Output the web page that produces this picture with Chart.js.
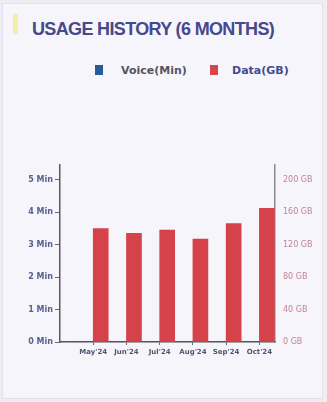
<!DOCTYPE html>
<html>
<head>
<meta charset="utf-8">
<script src="https://cdn.jsdelivr.net/npm/chart.js@4.4.1/dist/chart.umd.min.js"></script>
<style>
  html, body { margin: 0; padding: 0; }
  body { width: 327px; height: 402px; background: #eeedf3; overflow: hidden; position: relative; }
  #card { position: absolute; left: 2px; top: 3px; width: 321px; height: 396px; background: #f6f5fb; border: 1px solid #e3e1ea; box-sizing: border-box; }
  .accent { position: absolute; left: 10px; top: 10px; width: 5px; height: 20px; background: #f1efa6; }
  .title { position: absolute; left: 29px; top: 16px; font: bold 18px "Liberation Sans", Arial, sans-serif; line-height: 18px; letter-spacing: -0.65px; color: #46498b; white-space: nowrap; }
  .legend { position: absolute; top: 60px; left: 0; width: 321px; height: 16px; font: bold 11px "DejaVu Sans", sans-serif; }
  .legend .sw { position: absolute; top: 1px; width: 8px; height: 10px; }
  .legend .lbl { position: absolute; top: 0; line-height: 13px; white-space: nowrap; }
  .chart { position: absolute; left: 0; top: 150px; width: 327px; height: 215px; }
</style>
</head>
<body>
<div id="card">
  <div class="accent"></div>
  <div class="title">USAGE HISTORY (6 MONTHS)</div>
  <div class="legend">
    <span class="sw" style="left:92px;background:#265c96"></span>
    <span class="lbl" style="left:118px;color:#55545e">Voice(Min)</span>
    <span class="sw" style="left:207px;background:#d6474b"></span>
    <span class="lbl" style="left:229px;color:#414b8e">Data(GB)</span>
  </div>
</div>
<div class="chart"><canvas id="usage" width="327" height="215"></canvas></div>
<script>
// Monthly usage for the last six months
const months = ["May'24", "Jun'24", "Jul'24", "Aug'24", "Sep'24", "Oct'24"];
const voiceMin = [0, 0, 0, 0, 0, 0];
const dataGB = [140, 134, 138, 127, 146, 165];
const voiceTicks = [0, 1, 2, 3, 4, 5];
const dataTicks = [0, 40, 80, 120, 160, 200];

const toPoints = arr => arr.map((v, i) => ({ x: i, y: v }));

// Place ticks exactly at the listed values
const setTicks = list => scale => {
  scale.ticks = list.map(v => ({ value: v }));
};

Chart.defaults.font.family = '"DejaVu Sans", sans-serif';

new Chart(document.getElementById('usage'), {
  type: 'bar',
  data: {
    datasets: [
      {
        label: 'Voice(Min)',
        data: toPoints(voiceMin),
        backgroundColor: '#265c96',
        yAxisID: 'y',
        barThickness: 15
      },
      {
        label: 'Data(GB)',
        data: toPoints(dataGB),
        backgroundColor: '#d6424a',
        yAxisID: 'y1',
        barThickness: 15
      }
    ]
  },
  options: {
    responsive: false,
    animation: false,
    devicePixelRatio: 1,
    layout: { padding: { top: 15, bottom: 0, left: 0, right: 0 } },
    plugins: {
      legend: { display: false },
      tooltip: { enabled: false }
    },
    scales: {
      x: {
        type: 'linear',
        offset: false,
        min: -1,
        max: 5.47,
        afterBuildTicks: setTicks(months.map((m, i) => i)),
        afterFit: s => { s.height = 23; },
        grid: { offset: false, drawOnChartArea: false, drawTicks: true, tickLength: 3, color: '#6a6a72' },
        border: { display: true, color: '#55555c', width: 1.5 },
        ticks: {
          padding: 3,
          maxRotation: 0,
          autoSkip: false,
          color: '#4d546f',
          font: { size: 7, weight: 'bold' },
          callback: v => months[v]
        }
      },
      y: {
        position: 'left',
        min: 0,
        max: 5.46,
        afterBuildTicks: setTicks(voiceTicks),
        afterFit: s => { s.width = 60; },
        grid: { drawOnChartArea: false, drawTicks: true, tickLength: 5, color: '#6a6a72' },
        border: { display: true, color: '#5e5660', width: 1.5 },
        ticks: {
          padding: 2,
          color: '#56628f',
          font: { size: 8, weight: 'bold' },
          callback: v => v + ' Min'
        }
      },
      y1: {
        position: 'right',
        min: 0,
        max: 218.4,
        afterBuildTicks: setTicks(dataTicks),
        afterFit: s => { s.width = 52; },
        grid: { drawOnChartArea: false, drawTicks: false },
        border: { display: true, color: '#8a8a90', width: 1.5 },
        ticks: {
          padding: 8,
          color: '#c08592',
          font: { size: 8 },
          callback: v => v + ' GB'
        }
      }
    }
  }
});
</script>
</body>
</html>
